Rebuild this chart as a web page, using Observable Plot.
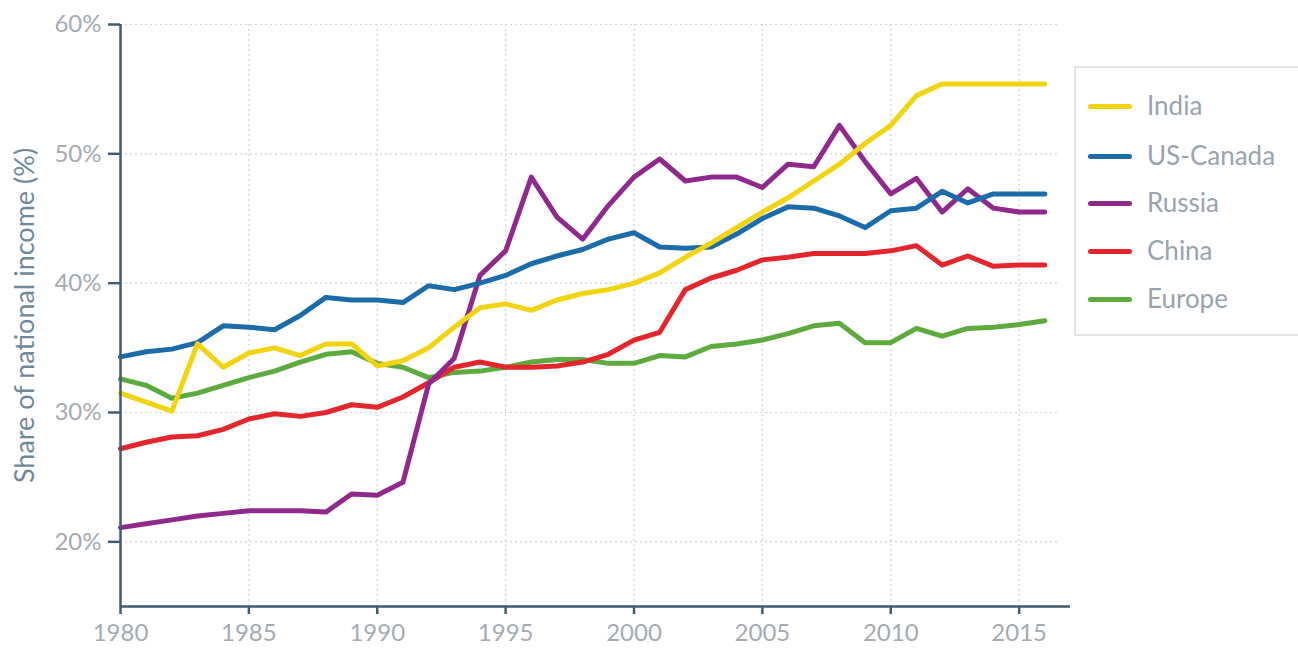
<!DOCTYPE html>
<html>
<head>
<meta charset="utf-8">
<script src="https://cdn.jsdelivr.net/npm/d3@7"></script>
<script src="https://cdn.jsdelivr.net/npm/@observablehq/plot@0.6"></script>
<style>
  html, body { margin: 0; padding: 0; background: #fff; }
  #wrap { position: relative; width: 1298px; height: 655px; overflow: hidden; font-family: Lato, "Open Sans", sans-serif; }
  #legend { position: absolute; left: 1074px; top: 66px; width: 260px; height: 270px; border: 2px solid #e2e4e6; box-sizing: border-box; background: #fff; }
  .item { position: absolute; left: 0; height: 30px; }
  .swatch { position: absolute; left: 12px; width: 44px; height: 5px; border-radius: 3px; }
  .lab { position: absolute; left: 71px; font-size: 26px; color: #97a3ae; white-space: nowrap; font-weight: 400; line-height: 30px; top: -16px; }
</style>
</head>
<body>
<div id="wrap"><div id="legend"></div></div>
<script>
const years = d3.range(1980, 2017);
const countries = ["India", "US-Canada", "Russia", "China", "Europe"];
const colors = ["#f2d310", "#1b6ca8", "#8f2a8c", "#e2262b", "#5daa3e"];

const india = [31.5, 30.8, 30.1, 35.3, 33.5, 34.6, 35.0, 34.4, 35.3, 35.3, 33.6, 34.0, 35.0, 36.6, 38.1, 38.4, 37.9, 38.7, 39.2, 39.5, 40.0, 40.8, 42.0, 43.1, 44.3, 45.5, 46.6, 47.9, 49.2, 50.8, 52.2, 54.5, 55.4, 55.4, 55.4, 55.4, 55.4];
const usCanada = [34.3, 34.7, 34.9, 35.4, 36.7, 36.6, 36.4, 37.5, 38.9, 38.7, 38.7, 38.5, 39.8, 39.5, 40.0, 40.6, 41.5, 42.1, 42.6, 43.4, 43.9, 42.8, 42.7, 42.8, 43.8, 45.0, 45.9, 45.8, 45.2, 44.3, 45.6, 45.8, 47.1, 46.2, 46.9, 46.9, 46.9];
const russia = [21.1, 21.4, 21.7, 22.0, 22.2, 22.4, 22.4, 22.4, 22.3, 23.7, 23.6, 24.6, 32.2, 34.2, 40.6, 42.5, 48.2, 45.1, 43.4, 46.0, 48.2, 49.6, 47.9, 48.2, 48.2, 47.4, 49.2, 49.0, 52.2, 49.4, 46.9, 48.1, 45.5, 47.3, 45.8, 45.5, 45.5];
const china = [27.2, 27.7, 28.1, 28.2, 28.7, 29.5, 29.9, 29.7, 30.0, 30.6, 30.4, 31.2, 32.3, 33.5, 33.9, 33.5, 33.5, 33.6, 33.9, 34.5, 35.6, 36.2, 39.5, 40.4, 41.0, 41.8, 42.0, 42.3, 42.3, 42.3, 42.5, 42.9, 41.4, 42.1, 41.3, 41.4, 41.4];
const europe = [32.6, 32.1, 31.1, 31.5, 32.1, 32.7, 33.2, 33.9, 34.5, 34.7, 33.8, 33.5, 32.7, 33.1, 33.2, 33.5, 33.9, 34.1, 34.1, 33.8, 33.8, 34.4, 34.3, 35.1, 35.3, 35.6, 36.1, 36.7, 36.9, 35.4, 35.4, 36.5, 35.9, 36.5, 36.6, 36.8, 37.1];

const xTicks = [1980, 1985, 1990, 1995, 2000, 2005, 2010, 2015];
const yTicks = [20, 30, 40, 50, 60];
const yLabel = "Share of national income (%)";

const seriesValues = [india, usCanada, russia, china, europe];
// draw order: Europe first, India on top
const drawOrder = [4, 3, 2, 1, 0];
const data = [];
for (const i of drawOrder) {
  years.forEach((yr, j) => data.push({country: countries[i], year: yr, value: seriesValues[i][j]}));
}

const axisColor = "#3f5b74";
const tickText = "#a3aab0";
const gridColor = "#cfd3d6";

const chart = Plot.plot({
  width: 1298,
  height: 655,
  marginLeft: 120,
  marginRight: 228,
  marginTop: 24,
  marginBottom: 49,
  style: {fontFamily: "Lato, 'Open Sans', sans-serif", fontSize: "24px", background: "transparent", overflow: "visible"},
  x: {domain: [1980, 2017], axis: null},
  y: {domain: [15, 60], axis: null},
  color: {domain: countries, range: colors},
  marks: [
    Plot.ruleX(xTicks.slice(1), {y1: 15, y2: 60, stroke: gridColor, strokeWidth: 1.2, strokeDasharray: "2,3"}),
    Plot.ruleY(yTicks, {x1: 1980, x2: 2016.5, stroke: gridColor, strokeWidth: 1.2, strokeDasharray: "2,3"}),
    Plot.axisX({ticks: xTicks, tickFormat: d => String(d), tickSize: 8, tickPadding: 9, stroke: axisColor, strokeWidth: 2.5, fill: tickText, fontSize: 24, label: null}),
    Plot.axisY({ticks: yTicks, tickFormat: d => d + "%", tickSize: 12, tickPadding: 7, stroke: axisColor, strokeWidth: 2.5, fill: tickText, fontSize: 24, label: null}),
    Plot.line(data, {x: "year", y: "value", z: "country", stroke: "country", strokeWidth: 5, strokeLinejoin: "round", strokeLinecap: "round"}),
    Plot.ruleX([1980], {y1: 15, y2: 60, stroke: axisColor, strokeWidth: 2.5}),
    Plot.ruleY([15], {x1: 1980, x2: 2017, stroke: axisColor, strokeWidth: 2.5}),
    Plot.text([yLabel], {frameAnchor: "left", dx: -95, rotate: -90, textAnchor: "middle", text: d => d, fill: "#6e889b", fontSize: 27})
  ]
});

const wrap = document.getElementById("wrap");
wrap.insertBefore(chart, wrap.firstChild);

const legend = document.getElementById("legend");
const rowCenters = [38, 88, 135, 183, 231];
countries.forEach((c, i) => {
  const item = document.createElement("div");
  item.className = "item";
  item.style.top = rowCenters[i] + "px";
  const sw = document.createElement("div");
  sw.className = "swatch";
  sw.style.background = colors[i];
  sw.style.top = "-2.5px";
  const lb = document.createElement("div");
  lb.className = "lab";
  lb.textContent = c;
  item.appendChild(sw);
  item.appendChild(lb);
  legend.appendChild(item);
});
</script>
</body>
</html>
